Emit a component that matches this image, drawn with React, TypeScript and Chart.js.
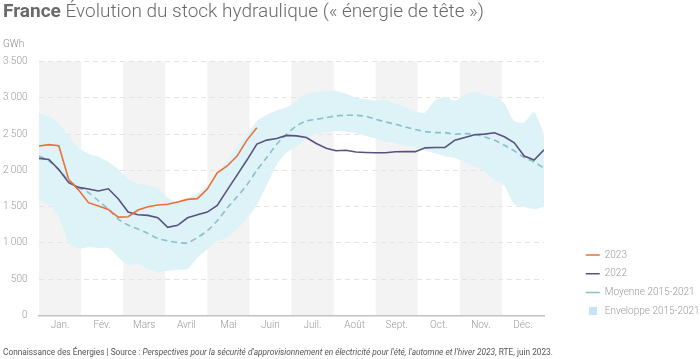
import React, { useEffect, useRef } from 'react';
import { Chart, registerables } from 'chart.js';

Chart.register(...registerables);

const weeks = [1, 2, 3, 4, 5, 6, 7, 8, 9, 10, 11, 12, 13, 14, 15, 16, 17, 18, 19, 20, 21, 22, 23, 24, 25, 26,
  27, 28, 29, 30, 31, 32, 33, 34, 35, 36, 37, 38, 39, 40, 41, 42, 43, 44, 45, 46, 47, 48, 49, 50, 51, 52];

const months = ['Jan.', 'Fév.', 'Mars', 'Avril', 'Mai', 'Juin', 'Juil.', 'Août', 'Sept.', 'Oct.', 'Nov.', 'Déc.'];

const yTickValues = [0, 500, 1000, 1500, 2000, 2500, 3000, 3500];

const serie2023 = [2335, 2355, 2340, 1875, 1728, 1555, 1508, 1462, 1356, 1361, 1453, 1498, 1522, 1532, 1563,
  1600, 1610, 1742, 1967, 2060, 2197, 2417, 2587];

const serie2022 = [2165, 2150, 2013, 1830, 1765, 1742, 1715, 1746, 1610, 1425, 1388, 1380, 1347, 1215, 1242,
  1347, 1388, 1425, 1517, 1728, 1935, 2142, 2362, 2417, 2440, 2482, 2475, 2452, 2370, 2306, 2270, 2278, 2252,
  2247, 2242, 2242, 2256, 2260, 2258, 2310, 2315, 2315, 2416, 2452, 2490, 2499, 2518, 2463, 2380, 2197, 2142, 2284];

const moyenne = [2200, 2130, 2006, 1864, 1763, 1694, 1580, 1466, 1328, 1246, 1191, 1130, 1061, 1029, 1006, 1000,
  1075, 1167, 1305, 1480, 1635, 1800, 2002, 2176, 2360, 2498, 2612, 2681, 2704, 2727, 2750, 2759, 2759, 2745,
  2704, 2667, 2635, 2598, 2563, 2534, 2520, 2520, 2498, 2506, 2498, 2461, 2415, 2346, 2268, 2176, 2116, 2030];

const enveloppeHaute = [2785, 2745, 2650, 2475, 2310, 2228, 2186, 2117, 2014, 1883, 1814, 1791, 1759, 1622, 1567,
  1615, 1685, 1795, 1945, 2135, 2315, 2495, 2675, 2765, 2825, 2865, 2955, 3055, 3080, 3090, 3095, 3055, 3005,
  2980, 2960, 2970, 2920, 2875, 2810, 2796, 2965, 3015, 2960, 3040, 3082, 3045, 3012, 2925, 2675, 2660, 2806, 2500];

const enveloppeBasse = [1580, 1524, 1364, 995, 920, 940, 930, 930, 805, 690, 710, 645, 595, 615, 630, 640, 795,
  910, 1025, 1075, 1185, 1335, 1525, 1795, 2075, 2245, 2325, 2435, 2505, 2530, 2540, 2535, 2510, 2475, 2440,
  2400, 2375, 2345, 2320, 2275, 2235, 2195, 2170, 2115, 2055, 1985, 1875, 1785, 1535, 1495, 1465, 1500];

const FONT = 'Roboto, "Noto Sans", "DejaVu Sans", sans-serif';
const TICK_COLOR = '#9a9a9a';

const formatThousands = (v: number) =>
  v >= 1000 ? `${Math.floor(v / 1000)} ${String(v % 1000).padStart(3, '0')}` : String(v);

const monthBands = {
  id: 'monthBands',
  beforeDraw(chart: any) {
    const { ctx, chartArea, scales } = chart;
    const x = scales.x;
    const span = (x.max - x.min) / months.length;
    ctx.save();
    ctx.fillStyle = '#f3f3f3';
    months.forEach((_, m) => {
      if (m % 2 !== 0) return;
      const x0 = x.getPixelForValue(x.min + m * span);
      const x1 = x.getPixelForValue(x.min + (m + 1) * span);
      ctx.fillRect(x0, chartArea.top, x1 - x0, chartArea.bottom - chartArea.top);
    });
    ctx.restore();
  },
};

export default function App() {
  const canvasRef = useRef<HTMLCanvasElement | null>(null);

  useEffect(() => {
    if (!canvasRef.current) return;
    const square = document.createElement('canvas');
    square.width = 8;
    square.height = 8;
    const sctx = square.getContext('2d');
    if (sctx) {
      sctx.fillStyle = '#c6e5f4';
      sctx.fillRect(0, 0, 8, 8);
    }

    const chart = new Chart(canvasRef.current, {
      type: 'line',
      data: {
        labels: weeks,
        datasets: [
          {
            label: '2023',
            data: serie2023,
            borderColor: '#ea6f37',
            backgroundColor: '#ea6f37',
            borderWidth: 1.6,
            pointRadius: 0,
            pointStyle: 'line',
            tension: 0,
            fill: false,
          },
          {
            label: '2022',
            data: serie2022,
            borderColor: '#57527f',
            backgroundColor: '#57527f',
            borderWidth: 1.6,
            pointRadius: 0,
            pointStyle: 'line',
            tension: 0,
            fill: false,
          },
          {
            label: 'Moyenne 2015-2021',
            data: moyenne,
            borderColor: '#88c0cb',
            backgroundColor: '#88c0cb',
            borderWidth: 1.6,
            borderDash: [6, 4],
            pointRadius: 0,
            pointStyle: 'line',
            tension: 0.2,
            fill: false,
          },
          {
            label: 'Enveloppe 2015-2021',
            data: enveloppeHaute,
            borderColor: 'rgba(0,0,0,0)',
            backgroundColor: '#def3f7',
            borderWidth: 0,
            pointRadius: 0,
            pointStyle: square as any,
            tension: 0.2,
            fill: '+1',
          },
          {
            label: 'basse',
            data: enveloppeBasse,
            borderColor: 'rgba(0,0,0,0)',
            backgroundColor: '#def3f7',
            borderWidth: 0,
            pointRadius: 0,
            tension: 0.2,
            fill: false,
          },
        ],
      },
      options: {
        responsive: false,
        animation: false,
        layout: { padding: { top: 61.5, bottom: 23.5, left: 0, right: 0 } },
        plugins: {
          title: { display: false },
          tooltip: { enabled: false },
          legend: {
            position: 'right',
            align: 'start',
            maxWidth: 123,
            title: {
              display: true,
              text: ' ',
              color: 'rgba(0,0,0,0)',
              font: { family: FONT, size: 10, lineHeight: 1.2 },
              padding: { top: 0, bottom: 167.75 },
            },
            labels: {
              usePointStyle: true,
              pointStyleWidth: 14,
              padding: 8.75,
              color: TICK_COLOR,
              font: { family: FONT, size: 10, weight: '300' as any },
              filter: (item: any) => item.datasetIndex !== 4,
            },
          },
        },
        scales: {
          x: {
            type: 'linear',
            min: 1,
            max: 52,
            grid: { display: false, drawTicks: false },
            border: { display: true, color: '#c2c2c2', width: 1.5 },
            afterBuildTicks: (scale: any) => {
              const span = (52 - 1) / months.length;
              scale.ticks = months.map((_, m) => ({ value: 1 + (m + 0.5) * span }));
            },
            afterFit: (scale: any) => {
              scale.height = 20;
            },
            ticks: {
              autoSkip: false,
              maxRotation: 0,
              padding: 3.5,
              color: TICK_COLOR,
              font: { family: FONT, size: 10, weight: '300' as any },
              callback: (_v: any, i: number) => months[i],
            },
          },
          y: {
            type: 'linear',
            min: 0,
            max: 3500,
            grid: { color: '#e4e4e4', lineWidth: 1, drawTicks: false },
            border: { display: false, dash: [5, 4] },
            afterBuildTicks: (scale: any) => {
              scale.ticks = yTickValues.map((v) => ({ value: v }));
            },
            afterFit: (scale: any) => {
              scale.width = 39;
            },
            ticks: {
              padding: 11.5,
              color: TICK_COLOR,
              font: { family: FONT, size: 10, weight: '300' as any },
              callback: (v: any) => formatThousands(Number(v)),
            },
          },
          y2: {
            type: 'linear',
            position: 'right',
            display: true,
            grid: { display: false, drawTicks: false },
            border: { display: false },
            ticks: { display: false },
            afterFit: (scale: any) => {
              scale.width = 33;
            },
          },
        },
      },
      plugins: [monthBands],
    } as any);

    return () => {
      chart.destroy();
    };
  }, []);

  return (
    <div
      style={{
        position: 'absolute',
        left: 0,
        top: 0,
        width: 700,
        height: 359,
        background: '#ffffff',
        fontFamily: FONT,
        overflow: 'hidden',
      }}
    >
      <canvas ref={canvasRef} width={700} height={359} style={{ position: 'absolute', left: 0, top: 0 }} />
      <div
        style={{
          position: 'absolute',
          left: 3,
          top: 1,
          fontSize: 19,
          lineHeight: '19px',
          color: '#6a6a6a',
          whiteSpace: 'nowrap',
        }}
      >
        <span style={{ fontWeight: 700 }}>France</span>
        <span style={{ fontWeight: 300 }}> Évolution du stock hydraulique (« énergie de tête »)</span>
      </div>
      <div
        style={{
          position: 'absolute',
          left: 3,
          top: 38,
          fontSize: 10,
          lineHeight: '12px',
          fontWeight: 300,
          color: '#8a8a8a',
        }}
      >
        GWh
      </div>
      <div
        style={{
          position: 'absolute',
          left: 3,
          top: 347,
          fontSize: 8.3,
          lineHeight: '10px',
          color: '#555555',
          whiteSpace: 'nowrap',
        }}
      >
        Connaissance des Énergies | Source : <i>Perspectives pour la sécurité d'approvisionnement en électricité pour l'été, l'automne et l'hiver 2023</i>, RTE, juin 2023.
      </div>
    </div>
  );
}
